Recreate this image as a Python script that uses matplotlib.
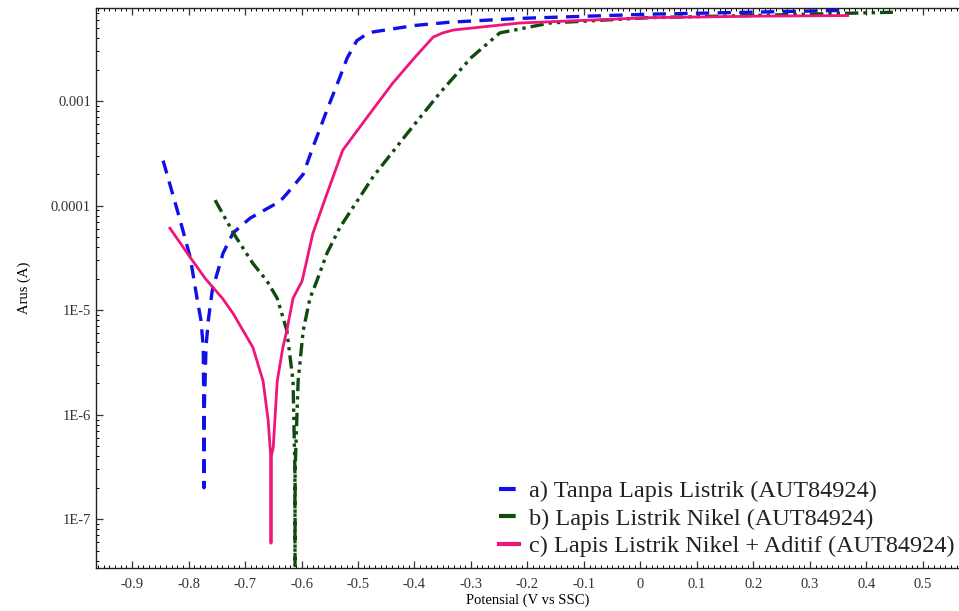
import matplotlib
matplotlib.use("Agg")
import matplotlib.pyplot as plt
from matplotlib.ticker import FixedLocator, MultipleLocator, LogLocator, NullFormatter, FuncFormatter

plt.rcParams['font.family'] = ['Liberation Serif', 'DejaVu Serif']

# a) Tanpa Lapis Listrik
pot_a = [-0.845, -0.815, -0.797, -0.785, -0.778, -0.774, -0.7728, -0.7726, -0.7724,
         -0.769, -0.765, -0.758, -0.739, -0.721, -0.691, -0.638, -0.626, -0.597,
         -0.580, -0.555, -0.532, -0.519, -0.502, -0.484, -0.473, -0.400, -0.337,
         -0.213, 0.017, 0.194, 0.362]
arus_a = [2.7e-4, 7.3e-5, 3.2e-5, 1.3e-5, 8.0e-6, 4.5e-6, 1.0e-6, 2.0e-7, 1.0e-6,
          4.5e-6, 8.0e-6, 1.55e-5, 3.5e-5, 5.5e-5, 7.6e-5, 1.1e-4, 1.3e-4, 2.0e-4,
          3.6e-4, 8.2e-4, 1.7e-3, 2.6e-3, 3.8e-3, 4.4e-3, 4.6e-3, 5.3e-3, 5.7e-3,
          6.2e-3, 6.8e-3, 7.1e-3, 7.4e-3]

# b) Lapis Listrik Nikel
pot_b = [-0.753, -0.718, -0.686, -0.661, -0.643, -0.626, -0.615, -0.6117, -0.6115,
         -0.6113, -0.606, -0.597, -0.585, -0.573, -0.555, -0.532, -0.473, -0.413,
         -0.355, -0.300, -0.249, -0.160, 0.017, 0.194, 0.447]
arus_b = [1.13e-4, 5.2e-5, 2.8e-5, 1.9e-5, 1.3e-5, 6.4e-6, 2.1e-6, 3.0e-7, 3.6e-8,
          3.0e-7, 2.1e-6, 6.4e-6, 1.3e-5, 1.9e-5, 3.5e-5, 6.2e-5, 1.9e-4, 4.9e-4,
          1.2e-3, 2.6e-3, 4.5e-3, 5.6e-3, 6.3e-3, 6.6e-3, 7.1e-3]

# c) Lapis Listrik Nikel + Aditif
pot_c = [-0.833, -0.797, -0.770, -0.740, -0.721, -0.686, -0.668, -0.659, -0.6545,
         -0.654, -0.6535, -0.650, -0.643, -0.633, -0.626, -0.615, -0.599, -0.580,
         -0.555, -0.527, -0.484, -0.438, -0.400, -0.367, -0.350, -0.331, -0.213,
         0.017, 0.200, 0.367]
arus_c = [6.1e-5, 3.2e-5, 2.0e-5, 1.3e-5, 9.3e-6, 4.4e-6, 2.1e-6, 8.8e-7, 4.0e-7,
          5.9e-8, 4.0e-7, 4.9e-7, 2.1e-6, 4.4e-6, 6.4e-6, 1.3e-5, 1.9e-5, 5.4e-5,
          1.3e-4, 3.4e-4, 7.0e-4, 1.5e-3, 2.6e-3, 4.1e-3, 4.5e-3, 4.8e-3, 5.6e-3,
          6.3e-3, 6.5e-3, 6.6e-3]

labels = ['a) Tanpa Lapis Listrik (AUT84924)',
          'b) Lapis Listrik Nikel (AUT84924)',
          'c) Lapis Listrik Nikel + Aditif (AUT84924)']
x_ticks = [-0.9, -0.8, -0.7, -0.6, -0.5, -0.4, -0.3, -0.2, -0.1, 0, 0.1, 0.2, 0.3, 0.4, 0.5]
y_ticks = [1e-7, 1e-6, 1e-5, 1e-4, 1e-3]
y_ticklabels = ['1E-7', '1E-6', '1E-5', '0.0001', '0.001']

fig = plt.figure(figsize=(9.59, 6.11), dpi=100)
ax = fig.add_axes([0.100, 0.070, 0.900, 0.917])

ax.plot(pot_a, arus_a, color='#1010e8', linestyle=(0, (4, 2.5)), linewidth=2.4, label=labels[0])
ax.plot(pot_b, arus_b, color='#0f4a0f', linestyle=(0, (4, 1.5, 1, 1.5, 1, 1.5)), linewidth=2.4, label=labels[1])
ax.plot(pot_c, arus_c, color='#f0157a', linestyle='-', linewidth=2.0, label=labels[2])

ax.set_yscale('log')
ax.set_xlim(-0.964, 0.564)
ax.set_ylim(3.4e-8, 7.8e-3)

ax.xaxis.set_major_locator(FixedLocator(x_ticks))
ax.xaxis.set_minor_locator(MultipleLocator(0.01))
ax.xaxis.set_major_formatter(FuncFormatter(lambda v, p: '0' if abs(v) < 1e-9 else '%g' % v))
ax.yaxis.set_major_locator(FixedLocator(y_ticks))
ax.set_yticklabels(y_ticklabels)
ax.yaxis.set_minor_locator(LogLocator(base=10, subs=range(2, 10)))
ax.yaxis.set_minor_formatter(NullFormatter())

ax.tick_params(which='major', direction='in', length=5, width=0.9, top=True, labelsize=10.5, colors='#333333')
ax.tick_params(which='minor', direction='in', length=2.5, width=0.7, top=True)
ax.tick_params(axis='x', pad=7)
ax.spines['right'].set_visible(False)
for s in ['left', 'bottom', 'top']:
    ax.spines[s].set_linewidth(1.0)
    ax.spines[s].set_color('#222222')

ax.set_xlabel('Potensial (V vs SSC)', fontsize=10.5, labelpad=2)
ax.set_ylabel('Arus (A)', fontsize=10.5, labelpad=14)

leg = ax.legend(loc='lower right', bbox_to_anchor=(1.009, -0.002), frameon=False, fontsize=17.5,
                handlelength=0.85, handletextpad=0.4, labelspacing=0.22, borderaxespad=0.1)
for line in leg.get_lines():
    line.set_linewidth(3.0)
for t in leg.get_texts():
    t.set_color('#222222')

fig.savefig('out.png', dpi=100)
